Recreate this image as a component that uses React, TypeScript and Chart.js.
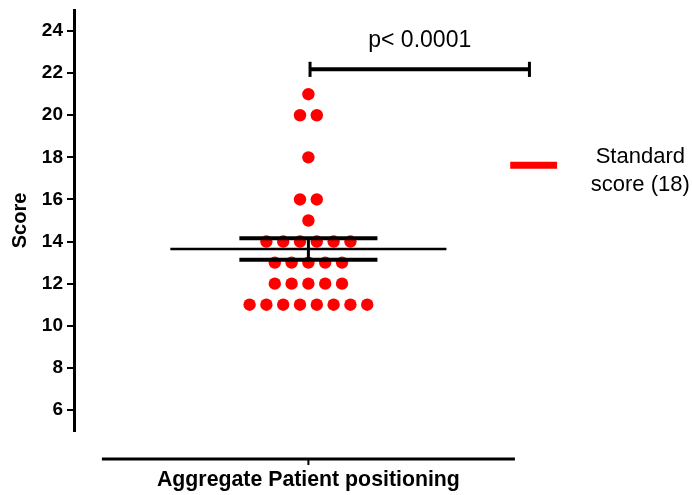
import { useEffect, useRef } from 'react';
import { Chart, registerables } from 'chart.js';

Chart.register(...registerables);

// Score levels and how many patients landed on each
const SCORE_LEVELS = [21, 20, 18, 16, 15, 14, 13, 12, 11];
const PATIENTS_AT_LEVEL = [1, 2, 1, 2, 1, 6, 5, 5, 8];

const Y_TICKS = [6, 8, 10, 12, 14, 16, 18, 20, 22, 24];
const GROUP_LABEL = 'Aggregate Patient positioning';
const Y_TITLE = 'Score';
const STANDARD_SCORE = 18;
const LEGEND_LINES = ['Standard', `score (${STANDARD_SCORE})`];
const P_LABEL = 'p< 0.0001';
const BRACKET_Y = 22.18;

// Geometry (in x-scale units)
const GROUP_X = 1;
const DOT_STEP = 0.0717;
const MEAN_HALF = 0.589;
const SEM_HALF = 0.2945;
const BRACKET_X0 = 1.007;
const BRACKET_X1 = 1.943;
const CAP_HALF = 0.36;
const AXIS_HALF = 0.881;

const FONT = '"Liberation Sans", Arial, Helvetica, sans-serif';
const RED = '#ff0000';

function buildDots() {
  const pts: { x: number; y: number }[] = [];
  SCORE_LEVELS.forEach((level, i) => {
    const n = PATIENTS_AT_LEVEL[i];
    for (let k = 0; k < n; k++) {
      pts.push({ x: GROUP_X + (k - (n - 1) / 2) * DOT_STEP, y: level });
    }
  });
  return pts;
}

function meanAndSem(values: number[]) {
  const n = values.length;
  const mean = values.reduce((a, b) => a + b, 0) / n;
  const sd = Math.sqrt(values.reduce((a, v) => a + (v - mean) ** 2, 0) / (n - 1));
  return { mean, sem: sd / Math.sqrt(n) };
}

function segment(points: { x: number; y: number }[], width: number, order = 0) {
  return {
    data: points,
    showLine: true,
    borderColor: '#000',
    borderWidth: width,
    pointRadius: 0,
    pointHoverRadius: 0,
    borderCapStyle: 'butt' as const,
    order,
  };
}

const overlayPlugin = {
  id: 'overlay',
  afterDraw(chart: any) {
    const { ctx, chartArea, scales } = chart;
    const xs = scales.x;
    const ys = scales.y;
    ctx.save();

    // detached category axis under the plot
    const axisY = chartArea.bottom + 28;
    const gx = xs.getPixelForValue(GROUP_X);
    ctx.strokeStyle = '#000';
    ctx.lineWidth = 3;
    ctx.beginPath();
    ctx.moveTo(xs.getPixelForValue(GROUP_X - AXIS_HALF), axisY);
    ctx.lineTo(xs.getPixelForValue(GROUP_X + AXIS_HALF), axisY);
    ctx.stroke();
    ctx.lineWidth = 2;
    ctx.beginPath();
    ctx.moveTo(gx, axisY);
    ctx.lineTo(gx, axisY + 6);
    ctx.stroke();

    ctx.fillStyle = '#000';
    ctx.textAlign = 'center';
    ctx.textBaseline = 'middle';
    ctx.font = `bold 21.3px ${FONT}`;
    ctx.fillText(GROUP_LABEL, gx, axisY + 21);

    // significance label
    ctx.font = `23px ${FONT}`;
    const bx = xs.getPixelForValue((BRACKET_X0 + BRACKET_X1) / 2);
    ctx.fillText(P_LABEL, bx, ys.getPixelForValue(BRACKET_Y) - 29);

    // legend for the standard score line
    const ly = ys.getPixelForValue(17.62);
    ctx.strokeStyle = RED;
    ctx.lineWidth = 7;
    ctx.beginPath();
    ctx.moveTo(xs.getPixelForValue(1.861), ly);
    ctx.lineTo(xs.getPixelForValue(2.061), ly);
    ctx.stroke();
    ctx.font = `22px ${FONT}`;
    const tx = xs.getPixelForValue(2.416);
    ctx.fillStyle = '#000';
    ctx.fillText(LEGEND_LINES[0], tx, ly - 8.5);
    ctx.fillText(LEGEND_LINES[1], tx, ly + 19.5);

    ctx.restore();
  },
};

export default function App() {
  const canvasRef = useRef<HTMLCanvasElement>(null);

  useEffect(() => {
    const canvas = canvasRef.current;
    if (!canvas) return;
    const dots = buildDots();
    const { mean, sem } = meanAndSem(dots.map((d) => d.y));

    const chart = new Chart(canvas, {
      type: 'scatter',
      data: {
        datasets: [
          segment([{ x: GROUP_X - MEAN_HALF, y: mean }, { x: GROUP_X + MEAN_HALF, y: mean }], 2.5),
          segment([{ x: GROUP_X - SEM_HALF, y: mean + sem }, { x: GROUP_X + SEM_HALF, y: mean + sem }], 4),
          segment([{ x: GROUP_X - SEM_HALF, y: mean - sem }, { x: GROUP_X + SEM_HALF, y: mean - sem }], 4),
          segment([{ x: GROUP_X, y: mean - sem }, { x: GROUP_X, y: mean + sem }], 3),
          segment([{ x: BRACKET_X0, y: BRACKET_Y }, { x: BRACKET_X1, y: BRACKET_Y }], 4),
          segment([{ x: BRACKET_X0, y: BRACKET_Y - CAP_HALF }, { x: BRACKET_X0, y: BRACKET_Y + CAP_HALF }], 3),
          segment([{ x: BRACKET_X1, y: BRACKET_Y - CAP_HALF }, { x: BRACKET_X1, y: BRACKET_Y + CAP_HALF }], 3),
          {
            data: dots,
            pointRadius: 6.2,
            pointHoverRadius: 6.2,
            pointBackgroundColor: RED,
            pointBorderWidth: 0,
            borderWidth: 0,
            showLine: false,
            order: 5,
          },
        ] as any,
      },
      options: {
        animation: false,
        responsive: false,
        layout: { padding: { top: 10, bottom: 64, left: 0, right: 32 } },
        plugins: { legend: { display: false }, tooltip: { enabled: false } },
        scales: {
          x: { type: 'linear', min: 0, max: 2.5, display: false },
          y: {
            type: 'linear',
            min: 5,
            max: 25,
            position: 'left',
            afterBuildTicks: (scale: any) => {
              scale.ticks = Y_TICKS.map((v) => ({ value: v }));
            },
            afterFit: (scale: any) => {
              scale.width = 74;
              scale.paddingTop = 0;
              scale.paddingBottom = 0;
            },
            border: { display: true, color: '#000', width: 3 },
            grid: {
              drawOnChartArea: false,
              drawTicks: true,
              tickLength: 7,
              color: '#000',
              lineWidth: 2,
            },
            ticks: {
              color: '#000',
              padding: 4,
              font: { family: FONT, size: 19, weight: 'bold' },
            },
            title: {
              display: true,
              text: Y_TITLE,
              color: '#000',
              font: { family: FONT, size: 20, weight: 'bold' },
              padding: { top: 8, bottom: 0 },
            },
          },
        },
      },
      plugins: [overlayPlugin],
    });
    return () => chart.destroy();
  }, []);

  return (
    <div style={{ position: 'fixed', left: 0, top: 0, width: 692, height: 495, background: '#fff' }}>
      <canvas ref={canvasRef} width={692} height={495} style={{ display: 'block' }} />
    </div>
  );
}
